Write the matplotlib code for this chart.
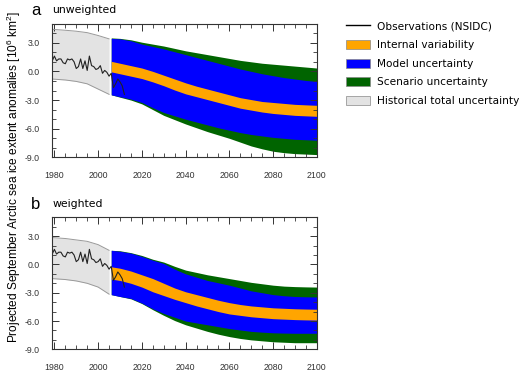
import numpy as np
import matplotlib
matplotlib.use("Agg")
import matplotlib.pyplot as plt
from matplotlib.patches import Patch
from matplotlib.lines import Line2D
from matplotlib.ticker import MultipleLocator, FormatStrFormatter

plt.rcParams['font.family'] = ['Liberation Sans', 'DejaVu Sans']
plt.rcParams['mathtext.fontset'] = 'custom'
plt.rcParams['mathtext.rm'] = 'Liberation Sans'

# ---- observations (NSIDC), anomalies
obs_years = np.arange(1979, 2013)
obs_vals = [1.1, 1.6, 1.1, 1.3, 1.3, 0.9, 0.8, 1.3, 1.2, 1.3,
            1.0, 0.3, 0.5, 1.3, 0.3, 1.1, 0.1, 1.6, 0.6, 0.5,
            0.2, 0.3, 0.6, -0.2, 0.1, -0.1, -0.5, -0.2, -1.7, -1.3,
            -0.8, -1.1, -1.5, -2.4]

# ---- historical total uncertainty
hist_years = [1979, 1985, 1990, 1995, 2000, 2005]
hist_hi_a = [4.4, 4.3, 4.2, 4.05, 3.75, 3.4]
hist_lo_a = [-0.8, -0.9, -1.05, -1.3, -1.85, -2.4]
hist_hi_b = [2.85, 2.75, 2.6, 2.45, 2.1, 1.5]
hist_lo_b = [-1.5, -1.6, -1.75, -2.0, -2.4, -3.15]

# ---- projections
proj_years = [2006, 2010, 2015, 2020, 2025, 2030, 2035, 2040, 2045, 2050,
              2055, 2060, 2065, 2070, 2075, 2080, 2085, 2090, 2095, 2100]

# a: unweighted
scen_hi_a = [3.5, 3.45, 3.3, 3.05, 2.85, 2.65, 2.4, 2.15, 1.95, 1.75,
             1.55, 1.35, 1.15, 1.0, 0.85, 0.75, 0.65, 0.55, 0.45, 0.35]
mod_hi_a = [3.45, 3.4, 3.2, 2.85, 2.6, 2.35, 2.05, 1.75, 1.45, 1.15,
            0.85, 0.55, 0.25, 0.0, -0.25, -0.45, -0.65, -0.8, -0.95, -1.05]
int_hi_a = [1.05, 0.85, 0.6, 0.35, 0.0, -0.4, -0.8, -1.2, -1.55, -1.85,
            -2.15, -2.45, -2.75, -2.95, -3.15, -3.25, -3.35, -3.45, -3.5, -3.55]
int_lo_a = [-0.05, -0.25, -0.5, -0.75, -1.1, -1.5, -1.95, -2.35, -2.65, -2.95,
            -3.25, -3.55, -3.85, -4.05, -4.25, -4.4, -4.5, -4.6, -4.65, -4.7]
mod_lo_a = [-2.45, -2.65, -2.9, -3.25, -3.8, -4.3, -4.65, -5.0, -5.3, -5.6,
            -5.9, -6.15, -6.4, -6.6, -6.75, -6.9, -7.0, -7.1, -7.15, -7.2]
scen_lo_a = [-2.45, -2.7, -3.0, -3.4, -4.0, -4.6, -5.05, -5.5, -5.9, -6.3,
             -6.65, -7.0, -7.4, -7.8, -8.1, -8.35, -8.5, -8.6, -8.65, -8.7]

# b: weighted
scen_hi_b = [1.5, 1.45, 1.25, 0.95, 0.55, 0.25, -0.2, -0.6, -0.85, -1.1,
             -1.3, -1.5, -1.7, -1.9, -2.05, -2.2, -2.3, -2.35, -2.38, -2.4]
mod_hi_b = [1.5, 1.4, 1.2, 0.85, 0.45, 0.1, -0.5, -1.0, -1.35, -1.7,
            -1.95, -2.2, -2.5, -2.8, -3.0, -3.2, -3.32, -3.4, -3.43, -3.45]
int_hi_b = [-0.25, -0.4, -0.7, -1.1, -1.5, -2.0, -2.5, -2.9, -3.2, -3.5,
            -3.8, -4.05, -4.25, -4.4, -4.5, -4.6, -4.65, -4.7, -4.73, -4.75]
int_lo_b = [-1.55, -1.7, -2.0, -2.4, -2.9, -3.3, -3.7, -4.05, -4.4, -4.7,
            -5.0, -5.25, -5.4, -5.55, -5.65, -5.75, -5.8, -5.85, -5.88, -5.9]
mod_lo_b = [-3.2, -3.4, -3.6, -4.1, -4.7, -5.2, -5.6, -6.0, -6.2, -6.4,
            -6.6, -6.8, -6.95, -7.1, -7.18, -7.25, -7.28, -7.3, -7.3, -7.3]
scen_lo_b = [-3.2, -3.4, -3.65, -4.15, -4.8, -5.4, -5.95, -6.4, -6.75, -7.1,
             -7.4, -7.65, -7.85, -8.0, -8.1, -8.2, -8.25, -8.3, -8.3, -8.3]

c_int = '#FFA500'
c_mod = '#0000FF'
c_scen = '#006400'
c_hist = '#E3E3E3'


def draw_panel(ax, hhi, hlo, shi, mhi, ihi, ilo, mlo, slo, letter, title):
    ax.fill_between(hist_years, hlo, hhi, color=c_hist, lw=0)
    ax.plot(hist_years, hhi, color='#999999', lw=0.7)
    ax.plot(hist_years, hlo, color='#999999', lw=0.7)
    ax.fill_between(proj_years, slo, shi, color=c_scen, lw=0)
    ax.fill_between(proj_years, mlo, mhi, color=c_mod, lw=0)
    ax.fill_between(proj_years, ilo, ihi, color=c_int, lw=0)
    ax.plot(obs_years, obs_vals, color='#222222', lw=0.8)

    ax.set_xlim(1979, 2100)
    ax.set_ylim(-9, 5)
    ax.xaxis.set_major_locator(MultipleLocator(20))
    ax.xaxis.set_minor_locator(MultipleLocator(5))
    ax.yaxis.set_major_locator(MultipleLocator(3))
    ax.yaxis.set_minor_locator(MultipleLocator(1))
    ax.yaxis.set_major_formatter(FormatStrFormatter('%.1f'))
    ax.tick_params(which='both', direction='in', top=True, right=True,
                   labelsize=6.3, colors='#333333')
    ax.tick_params(which='major', length=5, width=0.7)
    ax.tick_params(which='minor', length=3, width=0.6)
    ax.tick_params(axis='y', pad=9)
    ax.tick_params(axis='x', pad=10)
    for s in ax.spines.values():
        s.set_linewidth(0.8)
        s.set_color('#333333')
    ax.text(-0.045, 1.1, letter, transform=ax.transAxes, fontsize=12,
            ha='right', va='center')
    ax.text(0.0, 1.1, title, transform=ax.transAxes, fontsize=7.8,
            family='DejaVu Sans', ha='left', va='center')


fig = plt.figure(figsize=(5.22, 3.74), dpi=100)
ax1 = fig.add_axes([0.100, 0.579, 0.507, 0.358])
ax2 = fig.add_axes([0.100, 0.066, 0.507, 0.353])

draw_panel(ax1, hist_hi_a, hist_lo_a, scen_hi_a, mod_hi_a, int_hi_a, int_lo_a,
           mod_lo_a, scen_lo_a, 'a', 'unweighted')
draw_panel(ax2, hist_hi_b, hist_lo_b, scen_hi_b, mod_hi_b, int_hi_b, int_lo_b,
           mod_lo_b, scen_lo_b, 'b', 'weighted')

fig.text(0.027, 0.528,
         r'Projected September Arctic sea ice extent anomalies [10$^{6}$ km$^{2}$]',
         rotation=90, ha='center', va='center', fontsize=8.6)

handles = [Line2D([], [], color='black', lw=1),
           Patch(facecolor=c_int, edgecolor='#888888', lw=0.5),
           Patch(facecolor=c_mod, edgecolor='#888888', lw=0.5),
           Patch(facecolor=c_scen, edgecolor='#888888', lw=0.5),
           Patch(facecolor=c_hist, edgecolor='#888888', lw=0.5)]
labels = ['Observations (NSIDC)', 'Internal variability', 'Model uncertainty',
          'Scenario uncertainty', 'Historical total uncertainty']
fig.legend(handles, labels, loc='upper left', bbox_to_anchor=(0.662, 0.943),
           frameon=False, prop={'family': 'DejaVu Sans', 'size': 7.6},
           handlelength=2.3, handleheight=0.95, handletextpad=0.66,
           labelspacing=0.8, borderpad=0, borderaxespad=0)

fig.savefig('out.png', dpi=100)
